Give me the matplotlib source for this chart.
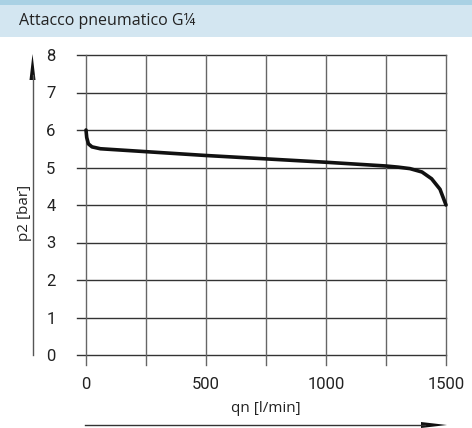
import matplotlib
matplotlib.use("Agg")
import matplotlib.pyplot as plt
from matplotlib.patches import Rectangle, Polygon

# Data
title = "Attacco pneumatico G¼"
xlabel = "qn [l/min]"
ylabel = "p2 [bar]"
x_ticks = [0, 500, 1000, 1500]
y_ticks = [0, 1, 2, 3, 4, 5, 6, 7, 8]
x_grid = [0, 250, 500, 750, 1000, 1250, 1500]
flow = [0, 3, 10, 25, 60, 500, 1000, 1250, 1300, 1350, 1400, 1440, 1475, 1500]
pressure = [6.0, 5.8, 5.63, 5.55, 5.5, 5.32, 5.14, 5.04, 5.01, 4.97, 4.88, 4.70, 4.42, 4.0]

W, H = 472, 428
fig = plt.figure(figsize=(W / 100, H / 100), dpi=100)
plt.rcParams['font.family'] = ['Open Sans', 'DejaVu Sans']

# overlay in pixel coords for decorations
ov = fig.add_axes([0, 0, 1, 1])
ov.set_xlim(0, W)
ov.set_ylim(H, 0)
ov.axis('off')
ov.add_patch(Rectangle((0, 0), W, 5, color='#a9d1e4', lw=0))
ov.add_patch(Rectangle((0, 5), W, 32, color='#d3e6f1', lw=0))
ov.text(19, 21, title, fontsize=11.5, va='center', ha='left', color='#222222')

# y arrow
ov.plot([32.5, 32.5], [355, 75], color='#555555', lw=1)
ov.add_patch(Polygon([[32.5, 54], [29.5, 80], [35.5, 80]], closed=True, color='#111111', lw=0))
ov.text(25, 213, ylabel, rotation=90, fontsize=11, va='center', ha='center', color='#222222')
# x arrow
ov.plot([85, 425], [425, 425], color='#333333', lw=1)
ov.add_patch(Polygon([[447, 425], [421, 422], [421, 428]], closed=True, color='#111111', lw=0))

# main axes
ax = fig.add_axes([86 / W, 1 - 355 / H, 360 / W, 300 / H])
ax.set_xlim(0, 1500)
ax.set_ylim(0, 8)
for s in ax.spines.values():
    s.set_visible(False)
ax.patch.set_alpha(0)

for y in y_ticks:
    ax.plot([-37.5, 1500], [y, y], color='#333333', lw=1, clip_on=False, zorder=1)
for x in x_grid:
    ax.plot([x, x], [-0.27, 8], color='#666666', lw=1, clip_on=False, zorder=1)

ax.plot(flow, pressure, color='#111111', lw=2.6, solid_capstyle='round', clip_on=False, zorder=3)

ax.set_xticks(x_ticks)
ax.set_yticks(y_ticks)
ax.tick_params(length=0, labelsize=12, colors='#222222')
for lab in ax.get_xticklabels() + ax.get_yticklabels():
    lab.set_family(['Roboto', 'DejaVu Sans'])
ax.tick_params(axis='y', pad=22)
ax.tick_params(axis='x', pad=16)
ax.set_xlabel(xlabel, fontsize=11, color='#222222', labelpad=6)

fig.savefig('out.png', dpi=100)
